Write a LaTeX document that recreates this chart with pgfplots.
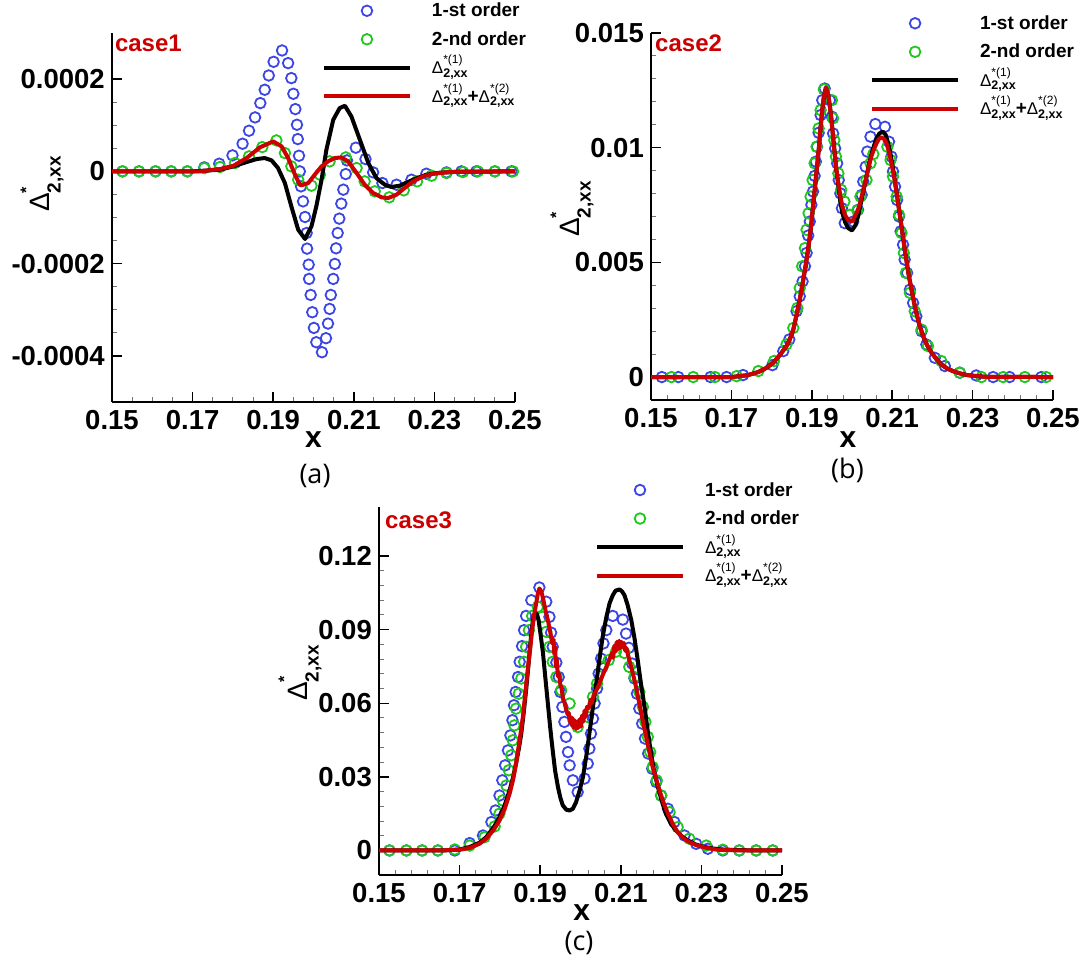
\documentclass[border=0pt]{standalone}
\usepackage{fontspec}
\setmainfont{Liberation Sans}
\newfontfamily\capfont{Open Sans}
\usepackage{pgfplots}
\pgfplotsset{compat=1.18}
\definecolor{mblue}{RGB}{60,70,230}
\definecolor{mgreen}{RGB}{30,200,30}
\definecolor{lred}{RGB}{204,0,0}
\newcommand{\ls}{\rule[-11.5pt]{0pt}{28.5pt}}
\newcommand{\ylab}{{\mdseries\fontsize{28}{28}\selectfont Δ}\rlap{\raisebox{18pt}{\bfseries\fontsize{16}{16}\selectfont *}}\raisebox{-11pt}{\bfseries\fontsize{19}{19}\selectfont 2,xx}}
\newcommand{\leg}[1]{{\mdseries\fontsize{17}{17}\selectfont Δ}\rlap{\raisebox{10pt}{\mdseries\fontsize{12}{12}\selectfont *(#1)}}\raisebox{-3.5pt}{\bfseries\fontsize{12.5}{12.5}\selectfont 2,xx}}
\pgfplotsset{
 myaxis/.style={
  scale only axis, anchor=south west,
  axis x line*=bottom, axis y line*=left,
  axis line style={line width=1.6pt},
  xmin=0.15, xmax=0.25,
  xtick={0.15,0.17,0.19,0.21,0.23,0.25},
  xticklabels={0.15,0.17,0.19,0.21,0.23,0.25},
  scaled ticks=false,
  tick align=inside,
  major tick length=10pt, minor tick length=5pt,
  major tick style={black, line width=1.5pt},
  minor tick style={black!55, line width=1pt},
  tick label style={font=\fontsize{27.5}{30}\selectfont\bfseries},
  xticklabel style={inner sep=0pt, yshift=-8pt},
  yticklabel style={inner sep=0pt, xshift=-7pt},
  /pgf/number format/assume math mode=true,
  xlabel={x}, xlabel style={font=\fontsize{30}{30}\selectfont\bfseries, anchor=center},
  ylabel={\ylab}, ylabel style={anchor=center},
  clip mode=individual,
  legend image code/.code={\draw[mark repeat=2,mark phase=2,##1] plot coordinates {(0pt,6pt)(43pt,6pt)(86pt,6pt)};},
  legend style={draw=none, fill=none, inner sep=0pt, outer sep=0pt, anchor=north west, font=\fontsize{19}{22}\selectfont\bfseries, column sep=20pt, row sep=0pt, cells={anchor=base west}, nodes={inner sep=0pt, text height=17pt, text depth=11.5pt}},
 },
 sty1/.style={only marks, mark=o, mark size=5.3pt, mblue, mark options={line width=1.8pt}},
 sty2/.style={only marks, mark=o, mark size=5.3pt, mgreen, mark options={line width=1.8pt}},
 sty3/.style={black, line width=4pt, no marks, line join=round},
 sty4/.style={lred, line width=4pt, no marks, line join=round},
}
\begin{document}
\begin{tikzpicture}
\useasboundingbox (0,0) rectangle (1087pt,961pt);
% ---------------- panel a
\begin{axis}[myaxis, at={(112pt,559pt)}, width=403pt, height=369pt,
 ymin=-0.0005, ymax=0.0003,
 ytick={-0.0004,-0.0002,0,0.0002}, yticklabels={-0.0004,-0.0002,0,0.0002},
 minor x tick num=3, minor y tick num=3,
 xlabel style={at={(axis description cs:0.5,-0.103)}},
 ylabel style={at={(axis description cs:-0.1737,0.5908)}},
 legend style={at={(axis description cs:0.521,1.090)}}]
\addplot[sty1] coordinates {
(0.1526,0)(0.1567,0)(0.1608,0)(0.1647,0)(0.1687,0)
(0.1729,0.087e-4)(0.1766,0.166e-4)(0.1799,0.347e-4)(0.1824,0.599e-4)(0.1840,0.881e-4)
(0.1855,1.170e-4)(0.1868,1.480e-4)(0.1879,1.769e-4)(0.1889,2.079e-4)(0.1901,2.375e-4)
(0.1922,2.621e-4)(0.1937,2.347e-4)(0.1945,2.022e-4)(0.1950,1.682e-4)(0.1955,1.350e-4)
(0.1959,1.011e-4)(0.1961,0.700e-4)(0.1964,0.339e-4)(0.1966,0)(0.1969,-0.325e-4)
(0.1974,-0.650e-4)(0.1979,-0.989e-4)(0.1983,-1.336e-4)(0.1984,-1.675e-4)(0.1988,-2.022e-4)
(0.1989,-2.332e-4)(0.1993,-2.679e-4)(0.1997,-3.054e-4)(0.2001,-3.394e-4)(0.2007,-3.704e-4)
(0.2021,-3.921e-4)(0.2031,-3.617e-4)(0.2036,-3.300e-4)(0.2040,-2.982e-4)(0.2043,-2.679e-4)
(0.2049,-2.332e-4)(0.2053,-2.007e-4)(0.2056,-1.668e-4)(0.2060,-1.336e-4)(0.2064,-1.025e-4)
(0.2069,-0.700e-4)(0.2074,-0.397e-4)(0.2080,-0.058e-4)(0.2083,0.238e-4)(0.2105,0.513e-4)
(0.2129,0.267e-4)(0.2148,-0.022e-4)(0.2171,-0.253e-4)(0.2206,-0.289e-4)(0.2243,-0.181e-4)
(0.2280,-0.051e-4)(0.2330,-0.022e-4)(0.2367,0)(0.2404,0)(0.2450,0)(0.2491,0)};
\addlegendentry{\ls 1-st order}
\addplot[sty2] coordinates {
(0.1526,0)(0.1567,0)(0.1608,0)(0.1647,0)(0.1687,0)(0.1729,0.07e-4)(0.1768,0.094e-4)
(0.1805,0.18e-4)(0.1840,0.325e-4)(0.1873,0.527e-4)(0.1908,0.671e-4)(0.1929,0.397e-4)
(0.1945,0.108e-4)(0.1962,-0.181e-4)(0.1995,-0.310e-4)(0.2016,-0.072e-4)(0.2040,0.217e-4)
(0.2080,0.303e-4)(0.2107,0.072e-4)(0.2127,-0.217e-4)(0.2152,-0.433e-4)(0.2188,-0.563e-4)
(0.2224,-0.412e-4)(0.2257,-0.217e-4)(0.2293,-0.094e-4)(0.2330,-0.036e-4)(0.2371,-0.014e-4)
(0.2408,0)(0.2450,0)(0.2495,0)};
\addlegendentry{\ls 2-nd order}
\addplot[sty3] coordinates {
(0.15,0)(0.170,0)(0.1768,0.036e-4)(0.1801,0.108e-4)(0.1834,0.202e-4)(0.1859,0.267e-4)
(0.1879,0.289e-4)(0.1896,0.238e-4)(0.1912,0.072e-4)(0.1929,-0.253e-4)(0.1945,-0.758e-4)
(0.1962,-1.264e-4)(0.1979,-1.466e-4)(0.1995,-1.191e-4)(0.2007,-0.758e-4)(0.2020,-0.181e-4)
(0.2032,0.469e-4)(0.2049,1.119e-4)(0.2065,1.372e-4)(0.2078,1.422e-4)(0.2094,1.191e-4)
(0.2115,0.686e-4)(0.2136,0.181e-4)(0.2156,-0.144e-4)(0.2177,-0.289e-4)(0.2193,-0.339e-4)
(0.2214,-0.310e-4)(0.2247,-0.181e-4)(0.2280,-0.072e-4)(0.2313,-0.029e-4)(0.2363,-0.007e-4)(0.25,0)};
\addlegendentry{\ls\leg{1}}
\addplot[sty4] coordinates {
(0.15,0)(0.1718,0)(0.1768,0.05e-4)(0.1801,0.12e-4)(0.1834,0.289e-4)(0.1867,0.52e-4)
(0.1900,0.65e-4)(0.1921,0.54e-4)(0.1937,0.289e-4)(0.1954,-0.072e-4)(0.1966,-0.289e-4)
(0.1970,-0.303e-4)(0.1987,-0.253e-4)(0.2003,-0.072e-4)(0.2020,0.108e-4)(0.2036,0.217e-4)
(0.2053,0.289e-4)(0.2069,0.303e-4)(0.2086,0.217e-4)(0.2107,-0.036e-4)(0.2127,-0.289e-4)
(0.2148,-0.469e-4)(0.2169,-0.563e-4)(0.2185,-0.578e-4)(0.2206,-0.505e-4)(0.2226,-0.361e-4)
(0.2247,-0.217e-4)(0.2272,-0.108e-4)(0.2297,-0.051e-4)(0.2338,-0.014e-4)(0.25,0)};
\addlegendentry{\ls\leg{1}+\leg{2}}
\node[anchor=base west, font=\fontsize{24}{24}\selectfont\bfseries, text=lred, inner sep=0pt] at (axis description cs:0.007,0.949) {case1};
\end{axis}
% ---------------- panel b
\begin{axis}[myaxis, at={(651pt,561pt)}, width=402pt, height=367pt,
 ymin=-0.001, ymax=0.015,
 ytick={0,0.005,0.01,0.015}, yticklabels={0,0.005,0.01,0.015},
 minor x tick num=4, minor y tick num=4,
 xlabel style={at={(axis description cs:0.490,-0.109)}},
 ylabel style={at={(axis description cs:-0.1965,0.5204)}},
 legend style={at={(axis description cs:0.545,1.0564)}}]
\addplot[sty1] coordinates {
(0.1527,0)(0.1568,0)(0.1648,0)(0.1688,0)(0.1729,0.087e-3)(0.1802,0.52e-3)(0.1829,1.13e-3)
(0.1844,1.64e-3)(0.1862,2.87e-3)(0.1870,3.52e-3)(0.1877,4.17e-3)(0.1883,4.83e-3)
(0.1887,5.41e-3)(0.1891,6.17e-3)(0.1895,6.78e-3)(0.1899,7.51e-3)(0.1903,8.09e-3)
(0.1907,8.77e-3)(0.1910,9.39e-3)(0.1913,10.04e-3)(0.1917,10.65e-3)(0.1922,11.42e-3)
(0.1926,12.07e-3)(0.1932,12.58e-3)(0.1945,12.07e-3)(0.1950,11.35e-3)(0.1953,10.62e-3)
(0.1958,9.97e-3)(0.1963,9.32e-3)(0.1967,8.59e-3)(0.1971,8.01e-3)(0.1975,7.36e-3)
(0.1982,6.71e-3)(0.2003,6.78e-3)(0.2015,7.29e-3)(0.2024,7.94e-3)(0.2028,8.52e-3)
(0.2034,9.17e-3)(0.2038,9.83e-3)(0.2046,10.48e-3)(0.2058,11.03e-3)(0.2082,10.91e-3)
(0.2092,10.26e-3)(0.2098,9.61e-3)(0.2102,8.96e-3)(0.2107,8.30e-3)(0.2112,7.72e-3)
(0.2117,7.00e-3)(0.2121,6.35e-3)(0.2127,5.77e-3)(0.2131,5.12e-3)(0.2137,4.54e-3)
(0.2144,3.81e-3)(0.2152,3.23e-3)(0.2160,2.65e-3)(0.2173,2.00e-3)(0.2185,1.42e-3)
(0.2206,0.84e-3)(0.2231,0.48e-3)(0.2268,0.19e-3)(0.2309,0.07e-3)(0.2351,0)(0.2392,0)(0.2471,0)};
\addlegendentry{\ls 1-st order}
\addplot[sty2] coordinates {
(0.1551,0)(0.1605,0)(0.1659,0)(0.1713,0.04e-3)(0.1767,0.26e-3)(0.1806,0.70e-3)(0.1837,1.42e-3)
(0.1854,2.14e-3)(0.1864,3.01e-3)(0.1870,3.88e-3)(0.1876,4.83e-3)(0.1883,5.62e-3)
(0.1887,6.42e-3)(0.1892,7.14e-3)(0.1897,7.87e-3)(0.1902,8.59e-3)(0.1907,9.32e-3)
(0.1912,10.04e-3)(0.1917,10.84e-3)(0.1922,11.64e-3)(0.1930,12.54e-3)(0.1950,12.07e-3)
(0.1953,11.28e-3)(0.1956,10.33e-3)(0.1960,9.61e-3)(0.1966,8.88e-3)(0.1973,8.16e-3)
(0.1981,7.65e-3)(0.1995,7.07e-3)(0.2013,7.26e-3)(0.2021,7.87e-3)(0.2036,8.59e-3)
(0.2046,9.32e-3)(0.2053,9.72e-3)(0.2088,10.04e-3)(0.2096,9.46e-3)(0.2102,8.74e-3)
(0.2111,7.87e-3)(0.2117,7.07e-3)(0.2123,6.28e-3)(0.2129,5.41e-3)(0.2134,4.54e-3)
(0.2144,3.67e-3)(0.2156,2.87e-3)(0.2173,2.07e-3)(0.2189,1.35e-3)(0.2222,0.70e-3)
(0.2268,0.19e-3)(0.2322,0)(0.2376,0)(0.2430,0)(0.2483,0)};
\addlegendentry{\ls 2-nd order}
\addplot[sty3] coordinates {
(0.15,0)(0.170,0)(0.1740,0.08e-3)(0.1767,0.22e-3)(0.1785,0.38e-3)(0.1804,0.62e-3)(0.1820,0.95e-3)
(0.1837,1.35e-3)(0.1846,1.68e-3)(0.1854,2.07e-3)(0.1862,2.70e-3)(0.1870,3.38e-3)(0.1877,4.05e-3)
(0.1883,4.68e-3)(0.1889,5.35e-3)(0.1894,5.99e-3)(0.1899,6.72e-3)(0.1903,7.43e-3)(0.1908,8.30e-3)
(0.1913,9.17e-3)(0.1918,10.05e-3)(0.1922,10.91e-3)(0.1926,11.65e-3)(0.1930,12.22e-3)
(0.1935,12.62e-3)(0.1941,12.29e-3)(0.1945,11.80e-3)(0.1949,11.20e-3)(0.1953,10.45e-3)
(0.1957,9.75e-3)(0.1961,9.05e-3)(0.1966,8.35e-3)(0.1971,7.65e-3)(0.1976,7.15e-3)
(0.1983,6.75e-3)(0.1990,6.50e-3)(0.2000,6.39e-3)(0.2008,6.60e-3)(0.2015,7.00e-3)
(0.2024,7.75e-3)(0.2030,8.25e-3)(0.2036,8.74e-3)(0.2042,9.25e-3)(0.2048,9.70e-3)
(0.2055,10.10e-3)(0.2061,10.40e-3)(0.2068,10.62e-3)(0.2077,10.70e-3)(0.2084,10.55e-3)
(0.2090,10.20e-3)(0.2096,9.70e-3)(0.2102,9.10e-3)(0.2108,8.40e-3)(0.2114,7.68e-3)
(0.2120,6.95e-3)(0.2126,6.20e-3)(0.2132,5.48e-3)(0.2141,4.45e-3)(0.2148,3.81e-3)
(0.2154,3.28e-3)(0.2160,2.80e-3)(0.2168,2.25e-3)(0.2177,1.78e-3)(0.2187,1.38e-3)
(0.2198,1.06e-3)(0.2210,0.78e-3)(0.2222,0.55e-3)(0.2236,0.38e-3)(0.2251,0.26e-3)
(0.2268,0.16e-3)(0.2285,0.09e-3)(0.2310,0.04e-3)(0.2334,0.01e-3)(0.25,0)};
\addlegendentry{\ls\leg{1}}
\addplot[sty4] coordinates {
(0.15,0)(0.170,0)(0.1740,0.08e-3)(0.1767,0.22e-3)(0.1785,0.38e-3)(0.1804,0.62e-3)(0.1820,0.95e-3)
(0.1837,1.35e-3)(0.1846,1.68e-3)(0.1854,2.07e-3)(0.1862,2.70e-3)(0.1870,3.38e-3)(0.1877,4.05e-3)
(0.1883,4.68e-3)(0.1889,5.35e-3)(0.1894,5.99e-3)(0.1899,6.72e-3)(0.1903,7.43e-3)(0.1908,8.30e-3)
(0.1913,9.17e-3)(0.1918,10.05e-3)(0.1922,10.91e-3)(0.1926,11.65e-3)(0.1930,12.22e-3)
(0.1935,12.62e-3)(0.1941,12.29e-3)(0.1945,11.80e-3)(0.1949,11.20e-3)(0.1953,10.45e-3)
(0.1957,9.75e-3)(0.1961,9.05e-3)(0.1966,8.45e-3)(0.1971,7.90e-3)(0.1976,7.43e-3)
(0.1983,7.05e-3)(0.1990,6.86e-3)(0.2001,6.78e-3)(0.2011,7.14e-3)(0.2018,7.45e-3)
(0.2024,7.87e-3)(0.2030,8.30e-3)(0.2036,8.74e-3)(0.2042,9.20e-3)(0.2048,9.61e-3)
(0.2055,9.95e-3)(0.2061,10.19e-3)(0.2067,10.38e-3)(0.2073,10.45e-3)(0.2080,10.38e-3)
(0.2086,10.19e-3)(0.2092,9.80e-3)(0.2098,9.32e-3)(0.2105,8.70e-3)(0.2111,8.01e-3)
(0.2117,7.30e-3)(0.2123,6.57e-3)(0.2129,5.85e-3)(0.2135,5.12e-3)(0.2141,4.45e-3)
(0.2148,3.81e-3)(0.2154,3.28e-3)(0.2160,2.80e-3)(0.2168,2.25e-3)(0.2177,1.78e-3)
(0.2187,1.38e-3)(0.2198,1.06e-3)(0.2210,0.78e-3)(0.2222,0.55e-3)(0.2236,0.38e-3)
(0.2251,0.26e-3)(0.2268,0.16e-3)(0.2285,0.09e-3)(0.2310,0.04e-3)(0.2334,0.01e-3)(0.25,0)};
\addlegendentry{\ls\leg{1}+\leg{2}}
\node[anchor=base west, font=\fontsize{24}{24}\selectfont\bfseries, text=lred, inner sep=0pt] at (axis description cs:0.01,0.949) {case2};
\end{axis}
% ---------------- panel c
\begin{axis}[myaxis, at={(379pt,86pt)}, width=403pt, height=368pt,
 ymin=-0.01, ymax=0.14,
 ytick={0,0.03,0.06,0.09,0.12}, yticklabels={0,0.03,0.06,0.09,0.12},
 minor x tick num=4, minor y tick num=4,
 xlabel style={at={(axis description cs:0.503,-0.102)}},
 ylabel style={at={(axis description cs:-0.196,0.5489)}},
 legend style={at={(axis description cs:0.536,1.076)}}]
\addplot[sty1] coordinates {
(0.1526,0)(0.1568,0)(0.1607,0)(0.1646,0)(0.1688,0)
(0.1725,0.30e-2)(0.1758,0.61e-2)(0.1779,1.16e-2)(0.1789,1.63e-2)(0.1799,2.24e-2)
(0.1806,2.86e-2)(0.1813,3.47e-2)(0.1820,4.08e-2)(0.1826,4.69e-2)(0.1831,5.31e-2)
(0.1835,5.92e-2)(0.1839,6.46e-2)(0.1845,7.07e-2)(0.1849,7.69e-2)(0.1855,8.33e-2)
(0.1860,8.98e-2)(0.1865,9.56e-2)(0.1878,10.20e-2)(0.1898,10.72e-2)(0.1915,10.14e-2)
(0.1923,9.52e-2)(0.1927,8.88e-2)(0.1931,8.30e-2)(0.1940,7.66e-2)(0.1946,7.07e-2)
(0.1950,6.46e-2)(0.1955,5.85e-2)(0.1960,5.24e-2)(0.1964,4.63e-2)(0.1969,4.01e-2)
(0.1973,3.47e-2)(0.1981,2.86e-2)(0.1993,2.38e-2)(0.2010,2.93e-2)(0.2018,3.54e-2)
(0.2022,4.15e-2)(0.2026,4.76e-2)(0.2031,5.37e-2)(0.2035,5.99e-2)(0.2041,6.60e-2)
(0.2045,7.21e-2)(0.2051,7.82e-2)(0.2057,8.44e-2)(0.2064,8.98e-2)(0.2080,9.56e-2)
(0.2105,9.41e-2)(0.2113,8.84e-2)(0.2120,8.26e-2)(0.2128,7.62e-2)(0.2134,7.01e-2)
(0.2140,6.39e-2)(0.2146,5.78e-2)(0.2153,5.17e-2)(0.2160,4.56e-2)(0.2168,3.95e-2)
(0.2178,3.33e-2)(0.2188,2.79e-2)(0.2200,2.24e-2)(0.2217,1.70e-2)(0.2233,1.16e-2)
(0.2258,0.61e-2)(0.2287,0.27e-2)(0.2316,0.07e-2)(0.2353,0)(0.2394,0)(0.2436,0)(0.2477,0)};
\addlegendentry{\ls 1-st order}
\addplot[sty2] coordinates {
(0.1526,0)(0.1568,0)(0.1607,0)(0.1646,0)(0.1688,0.04e-2)(0.1725,0.20e-2)(0.1762,0.54e-2)
(0.1787,0.98e-2)(0.1799,1.50e-2)(0.1807,2.04e-2)(0.1816,2.65e-2)(0.1822,3.27e-2)
(0.1828,3.88e-2)(0.1832,4.49e-2)(0.1836,5.10e-2)(0.1840,5.78e-2)(0.1847,6.39e-2)
(0.1853,7.01e-2)(0.1860,7.69e-2)(0.1865,8.30e-2)(0.1872,8.98e-2)(0.1880,9.56e-2)
(0.1894,9.93e-2)(0.1905,9.52e-2)(0.1915,8.91e-2)(0.1923,8.30e-2)(0.1931,7.69e-2)
(0.1940,7.07e-2)(0.1952,6.53e-2)(0.1973,5.99e-2)(0.1993,5.03e-2)(0.2018,5.44e-2)
(0.2031,6.26e-2)(0.2041,6.80e-2)(0.2055,7.48e-2)(0.2070,7.76e-2)(0.2088,8.10e-2)
(0.2109,8.05e-2)(0.2121,7.48e-2)(0.2134,7.07e-2)(0.2146,6.46e-2)(0.2155,5.85e-2)
(0.2161,5.24e-2)(0.2167,4.63e-2)(0.2173,4.01e-2)(0.2179,3.40e-2)(0.2189,2.86e-2)
(0.2200,2.24e-2)(0.2221,1.56e-2)(0.2241,0.95e-2)(0.2270,0.48e-2)(0.2312,0.20e-2)
(0.2353,0.03e-2)(0.2394,0)(0.2436,0)(0.2477,0)};
\addlegendentry{\ls 2-nd order}
\addplot[sty3] coordinates {
(0.15,0)(0.166,0)(0.170,0.04e-2)(0.1725,0.14e-2)(0.1750,0.32e-2)(0.1766,0.54e-2)(0.1785,0.95e-2)
(0.1799,1.36e-2)(0.1812,1.85e-2)(0.1824,2.45e-2)(0.1833,3.00e-2)(0.1840,3.54e-2)(0.1847,4.15e-2)
(0.1853,4.76e-2)(0.1859,5.60e-2)(0.1865,6.53e-2)(0.1870,7.40e-2)(0.1874,8.16e-2)(0.1878,8.85e-2)
(0.1882,9.39e-2)(0.1885,9.60e-2)(0.1888,9.69e-2)(0.1892,9.62e-2)(0.1896,9.39e-2)(0.1901,8.80e-2)
(0.1907,8.03e-2)(0.1913,7.00e-2)(0.1919,5.99e-2)(0.1925,4.98e-2)(0.1931,4.08e-2)(0.1937,3.25e-2)
(0.1944,2.59e-2)(0.1950,2.15e-2)(0.1956,1.84e-2)(0.1965,1.66e-2)(0.1973,1.63e-2)(0.1981,1.70e-2)
(0.1989,1.97e-2)(0.1997,2.40e-2)(0.2006,2.99e-2)(0.2014,3.80e-2)(0.2022,4.76e-2)(0.2030,5.75e-2)
(0.2039,6.80e-2)(0.2047,7.80e-2)(0.2055,8.71e-2)(0.2064,9.50e-2)(0.2072,10.07e-2)(0.2080,10.40e-2)
(0.2087,10.59e-2)(0.2097,10.64e-2)(0.2103,10.56e-2)(0.2109,10.41e-2)(0.2117,10.00e-2)
(0.2126,9.39e-2)(0.2134,8.65e-2)(0.2142,7.76e-2)(0.2150,6.80e-2)(0.2159,5.85e-2)(0.2167,4.85e-2)
(0.2175,3.95e-2)(0.2183,3.20e-2)(0.2192,2.59e-2)(0.2202,2.00e-2)(0.2212,1.50e-2)(0.2224,1.10e-2)
(0.2237,0.82e-2)(0.2251,0.58e-2)(0.2266,0.41e-2)(0.2285,0.25e-2)(0.2303,0.16e-2)(0.2328,0.08e-2)
(0.2353,0.04e-2)(0.2400,0.01e-2)(0.25,0)};
\addlegendentry{\ls\leg{1}}
\addplot[sty4] coordinates {
(0.15,0)(0.165,0)(0.170,0.03e-2)(0.1725,0.10e-2)(0.1750,0.28e-2)(0.1766,0.48e-2)(0.1785,0.85e-2)
(0.1799,1.22e-2)(0.1812,1.70e-2)(0.1824,2.31e-2)(0.1833,2.90e-2)(0.1840,3.54e-2)(0.1849,4.50e-2)
(0.1857,5.44e-2)(0.1863,6.40e-2)(0.1869,7.35e-2)(0.1875,8.20e-2)(0.1880,8.98e-2)(0.1885,9.60e-2)
(0.1890,10.07e-2)(0.1894,10.45e-2)(0.1898,10.68e-2)(0.1903,10.55e-2)(0.1908,10.20e-2)
(0.1913,9.80e-2)(0.1919,9.39e-2)(0.1925,8.90e-2)(0.1930,8.44e-2)(0.1933,8.60e-2)(0.1935,8.00e-2)
(0.1937,8.30e-2)(0.1939,7.50e-2)(0.1941,7.80e-2)(0.1944,7.10e-2)(0.1947,7.20e-2)(0.1950,6.75e-2)
(0.1953,6.60e-2)(0.1957,6.15e-2)(0.1960,6.05e-2)(0.1964,5.78e-2)(0.1968,5.55e-2)(0.1971,5.60e-2)
(0.1973,5.25e-2)(0.1975,5.45e-2)(0.1978,5.10e-2)(0.1980,5.40e-2)(0.1983,5.00e-2)(0.1986,5.30e-2)
(0.1989,4.95e-2)(0.1992,5.25e-2)(0.1995,5.00e-2)(0.1998,5.35e-2)(0.2001,5.05e-2)(0.2004,5.50e-2)
(0.2007,5.25e-2)(0.2010,5.70e-2)(0.2013,5.45e-2)(0.2016,5.85e-2)(0.2020,5.80e-2)(0.2025,6.15e-2)
(0.2028,6.00e-2)(0.2033,6.35e-2)(0.2040,6.55e-2)(0.2047,6.80e-2)(0.2055,7.15e-2)(0.2064,7.48e-2)
(0.2072,7.80e-2)(0.2078,8.05e-2)(0.2081,7.85e-2)(0.2084,8.35e-2)(0.2087,8.10e-2)(0.2090,8.50e-2)
(0.2093,8.20e-2)(0.2096,8.55e-2)(0.2099,8.25e-2)(0.2102,8.50e-2)(0.2105,8.30e-2)(0.2108,8.45e-2)
(0.2111,8.15e-2)(0.2114,8.25e-2)(0.2117,8.03e-2)(0.2123,7.65e-2)(0.2130,7.21e-2)(0.2138,6.65e-2)
(0.2146,5.99e-2)(0.2155,5.25e-2)(0.2163,4.63e-2)(0.2171,4.00e-2)(0.2179,3.40e-2)(0.2188,2.90e-2)
(0.2196,2.45e-2)(0.2206,1.95e-2)(0.2217,1.50e-2)(0.2229,1.08e-2)(0.2241,0.75e-2)(0.2255,0.50e-2)
(0.2270,0.34e-2)(0.2290,0.20e-2)(0.2312,0.11e-2)(0.2335,0.04e-2)(0.2361,0.01e-2)(0.25,0)};
\addlegendentry{\ls\leg{1}+\leg{2}}
\node[anchor=base west, font=\fontsize{24}{24}\selectfont\bfseries, text=lred, inner sep=0pt] at (axis description cs:0.015,0.942) {case3};
\end{axis}
\node[font=\capfont\fontsize{27}{27}\selectfont] at (315pt,485pt) {(a)};
\node[font=\capfont\fontsize{27}{27}\selectfont] at (847.5pt,491pt) {(b)};
\node[font=\capfont\fontsize{27}{27}\selectfont] at (579pt,18pt) {(c)};
\end{tikzpicture}
\end{document}
